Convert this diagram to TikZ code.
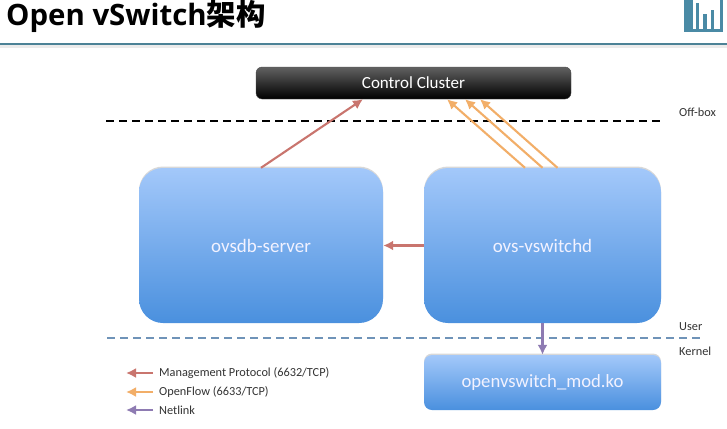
\documentclass[tikz,border=0pt]{standalone}
\usepackage{fontspec}
\setmainfont{Carlito}
\newfontfamily\titlefont{Open Sans}
\newfontfamily\cjk{Noto Sans CJK SC}
\usepackage{tikz}
\usetikzlibrary{positioning,shadows,arrows.meta}
\definecolor{mgmtred}{HTML}{C9756E}
\definecolor{floworange}{HTML}{F2AE68}
\definecolor{linkpurple}{HTML}{8E7BB2}
\definecolor{logoteal}{HTML}{4A8AA5}
\definecolor{rulegrey}{HTML}{4C8296}
\definecolor{boxtop}{HTML}{A3C8FA}
\definecolor{boxbottom}{HTML}{4A90DE}
\definecolor{dashblue}{HTML}{6F93B8}
\tikzstyle{daemon} = [rounded corners=24, top color=boxtop, bottom color=boxbottom, inner sep=0, text=white!95!blue, font=\fontsize{19}{23}\selectfont, drop shadow={opacity=0.3, shadow xshift=0, shadow yshift=-1.5}]
\tikzstyle{module} = [daemon, rounded corners=8, font=\fontsize{18.7}{22}\selectfont]
\tikzstyle{cluster} = [rounded corners=6, top color=black!62, bottom color=black, draw=black!70, inner sep=0, text=white!95, font=\fontsize{17}{20}\selectfont]
\tikzstyle{mgmt} = [draw=mgmtred, line width=2.1, -{Latex[length=10,width=10]}]
\tikzstyle{flow} = [draw=floworange, line width=2.1, -{Latex[length=10,width=10]}]
\tikzstyle{netlink} = [draw=linkpurple, line width=2.1, -{Latex[length=10,width=10]}]
\tikzstyle{caption} = [inner sep=0, anchor=west, text=black!80, font=\fontsize{12.3}{15}\selectfont]
\tikzstyle{bar} = [fill=logoteal, draw=none]
\begin{document}
\begin{tikzpicture}[x=1pt,y=-1pt,>=latex]
	\useasboundingbox[fill=white] (0,0) rectangle (727,428);
	\node[inner sep=0, anchor=west, font=\titlefont\bfseries\fontsize{29.4}{35}\selectfont] (title) at (6,16.5) {Open vSwitch{\cjk 架构}};
	\fill[black!8] (0,45) rectangle (727,48);
	\draw[rulegrey, line width=1.2] (0,44) -- (727,44);
	\fill[bar] (684,0) rectangle (693,31);
	\fill[bar] (696,3) rectangle (699,31);
	\fill[bar] (703,14) rectangle (707,31);
	\fill[bar] (711,10) rectangle (714,31);
	\fill[bar] (720,0) rectangle (723,31);
	\fill[bar] (684,29.5) rectangle (723,32);
	\node[cluster, minimum width=315, minimum height=32] (control) at (413.5,83) {Control Cluster};
	\node[daemon, minimum width=244, minimum height=155] (ovsdb) at (261,245.5) {ovsdb-server};
	\node[daemon, minimum width=237, minimum height=155] (vswitchd) at (542.5,245.5) {ovs-vswitchd};
	\node[module, minimum width=237, minimum height=55] (kmod) at (542.5,382.5) {openvswitch\_mod.ko};
	\coordinate (boxleft) at (106,121);
	\coordinate (boxright) at (664,121);
	\coordinate (userleft) at (107,338);
	\coordinate (userright) at (702,338);
	\draw[black, line width=1.9, dash pattern=on 8 off 5] (boxleft) -- (boxright);
	\draw[dashblue, line width=2.2, dash pattern=on 8 off 5] (userleft) -- (userright);
	\node[caption] (offbox) at (679,112) {Off-box};
	\node[caption] (user) at (679,327) {User};
	\node[caption] (kernel) at (679,351) {Kernel};
	\draw[mgmt] (ovsdb.north) -- ([xshift=-50.5]control.south);
	\draw[flow] ([xshift=-17.5]vswitchd.north) -- ([xshift=33.5]control.south);
	\draw[flow] (vswitchd.north) -- ([xshift=51.5]control.south);
	\draw[flow] ([xshift=15]vswitchd.north) -- ([xshift=66.5]control.south);
	\draw[mgmt] (vswitchd.west) -- (ovsdb.east);
	\draw[netlink] (vswitchd.south) -- (kmod.north);
	\node[caption] (mgmtlabel) at (159,373) {Management Protocol (6632/TCP)};
	\node[caption] (flowlabel) at (159,392) {OpenFlow (6633/TCP)};
	\node[caption] (linklabel) at (159,410) {Netlink};
	\coordinate[left=33 of mgmtlabel.west] (mgmtend);
	\coordinate[left=33 of flowlabel.west] (flowend);
	\coordinate[left=33 of linklabel.west] (linkend);
	\draw[mgmt] ([xshift=-6]mgmtlabel.west) -- (mgmtend);
	\draw[flow] ([xshift=-6]flowlabel.west) -- (flowend);
	\draw[netlink] ([xshift=-6]linklabel.west) -- (linkend);
\end{tikzpicture}
\end{document}
